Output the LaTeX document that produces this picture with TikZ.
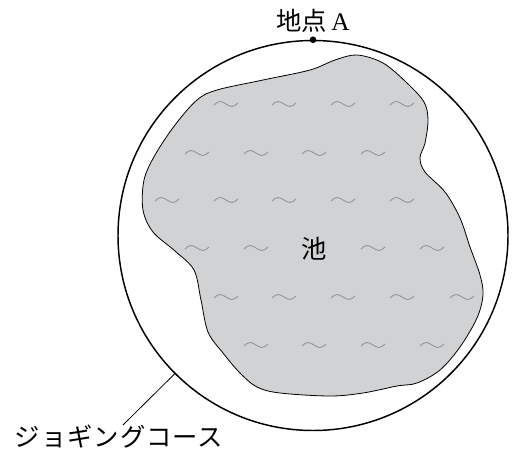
\documentclass[tikz,border=0pt]{standalone}
\usepackage{fontspec}
\setmainfont{Liberation Serif}
\newfontfamily\jp{Noto Sans CJK JP}
\definecolor{pondgray}{RGB}{209,210,212}
\definecolor{wavegray}{RGB}{150,150,150}
\begin{document}
\begin{tikzpicture}[x=0.75pt,y=-0.75pt,
  course/.style={circle,draw=black,line width=1.1pt,minimum size=292.5pt,inner sep=0pt},
  dotnode/.style={circle,fill=black,inner sep=0pt,minimum size=5pt},
  lbl/.style={inner sep=0pt,font=\fontsize{19pt}{21pt}\selectfont},
  wave/.pic={\draw[wavegray,line width=0.7pt] (-12,1) sin (-6,-2.5) cos (0,0) sin (6,2.5) cos (12,-1);}
]
\useasboundingbox (0,0) rectangle (517,457);
\fill[white] (0,0) rectangle (517,457);
% pond
\draw[fill=pondgray,line width=0.6pt] plot[smooth cycle,tension=0.55] coordinates{
(357,55) (383,63) (407,83) (424,102) (428,120) (425,143) (420,158) (425,172) (445,192) (460,218) (470,247) (480,275) (483,295) (477,318) (460,347) (440,370) (417,383) (397,386) (363,393) (330,396) (280,393) (257,387) (240,373) (223,353) (208,332) (201,300) (194,270) (175,251) (153,232) (143,210) (144,180) (155,155) (175,125) (197,100) (217,90) (263,80) (310,70) (335,60)};
% waves
\foreach \x in {226,284,343,402} \pic at (\x,104) {wave};
\foreach \x in {197,256,314,373} \pic at (\x,153) {wave};
\foreach \x in {167,226,284,343,402} \pic at (\x,200) {wave};
\foreach \x in {197,256,373,432} \pic at (\x,248) {wave};
\foreach \x in {226,284,343,402,462} \pic at (\x,297) {wave};
\foreach \x in {256,314,373,432} \pic at (\x,345) {wave};
\node[lbl] (pond) at (314,249) {\jp 池};
% course
\node[course] (course) at (313,235.5) {};
\node[dotnode] (A) at (course.north) {};
\node[lbl,anchor=south] (Alabel) at (313,33) {{\jp 地点}\,A};
\node[lbl] (label) at (119,437) {\jp\addfontfeature{LetterSpace=4}ジョギングコース};
\coordinate (lead) at (123,425);
\draw[line width=0.6pt] (course.225) -- (lead);
\end{tikzpicture}
\end{document}
